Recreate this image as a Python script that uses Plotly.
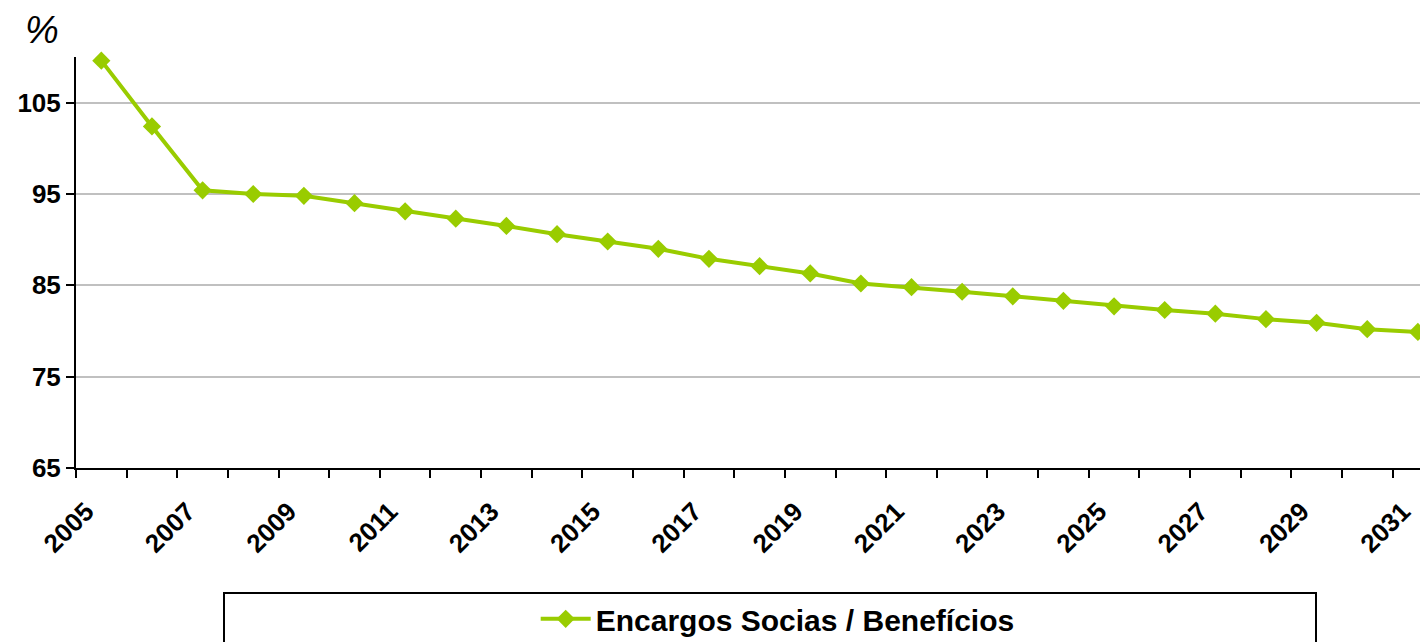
import plotly.graph_objects as go

years = list(range(2005, 2032))
values = [109.6, 102.4, 95.4, 95.0, 94.8, 94.0, 93.1, 92.3, 91.5, 90.6,
          89.8, 89.0, 87.9, 87.1, 86.3, 85.2, 84.8, 84.3, 83.8, 83.3,
          82.7, 82.3, 81.9, 81.3, 80.9, 80.2, 79.9]
tick_years = list(range(2005, 2032, 2))
tick_labels = [str(y) for y in tick_years]
y_ticks = [65, 75, 85, 95, 105]
series_name = "Encargos Socias / Benefícios"

GREEN = "#99CC00"
FONT = "Liberation Sans, Arial, sans-serif"

# page has an 8px body margin; plot area in page coords: x 76..1428, y 57..468
OFF = 8
W, H = 1428 - OFF, 642 - OFF
L, T, B = 76 - OFF, 57 - OFF, 642 - 468

fig = go.Figure()
fig.add_trace(go.Scatter(
    x=years, y=values, mode="lines+markers", name=series_name,
    line=dict(color=GREEN, width=4),
    marker=dict(symbol="diamond", size=14, color=GREEN),
    cliponaxis=False,
))

fig.update_layout(
    width=W, height=H,
    margin=dict(l=L, r=0, t=T, b=B, autoexpand=False),
    plot_bgcolor="white", paper_bgcolor="white",
    font=dict(family=FONT, color="black"),
    showlegend=True,
    legend=dict(orientation="h", x=0.519, xanchor="center", y=-0.367, yanchor="middle",
                font=dict(size=30, family=FONT, color="black", weight="bold"),
                bgcolor="rgba(0,0,0,0)", itemwidth=50),
    xaxis=dict(
        range=[2004.5, 2031.2], tickmode="array", tickvals=tick_years, ticktext=tick_labels,
        ticks="", tickangle=-45, showgrid=False, zeroline=False,
        showline=True, linecolor="black", linewidth=2,
        tickfont=dict(size=26, family=FONT, color="black", weight="bold"),
        ticklabelshift=-15, ticklabelstandoff=16,
        minor=dict(tick0=2004.5, dtick=1, ticks="outside", ticklen=8, tickwidth=2,
                   tickcolor="black", showgrid=False),
    ),
    yaxis=dict(
        range=[65, 110], tickmode="array", tickvals=y_ticks,
        ticks="outside", ticklen=8, tickwidth=2, tickcolor="black",
        showgrid=True, gridcolor="#C0C0C0", gridwidth=2, zeroline=False,
        showline=True, linecolor="black", linewidth=2,
        tickfont=dict(size=26, family=FONT, color="black", weight="bold"),
    ),
    shapes=[dict(type="rect", xref="paper", yref="paper",
                 x0=(224 - 76) / 1352, x1=(1316 - 76) / 1352,
                 y0=-0.45, y1=(468 - 593) / 411,
                 line=dict(color="black", width=2), fillcolor="rgba(0,0,0,0)", layer="below")],
    annotations=[dict(text="%", xref="paper", yref="paper", x=(42 - 76) / 1352, y=(468 - 8) / 411,
                      xanchor="center", yanchor="top", showarrow=False, borderpad=0,
                      font=dict(size=38, family=FONT, color="black", style="italic"))],
)

fig.write_html("out.html")
